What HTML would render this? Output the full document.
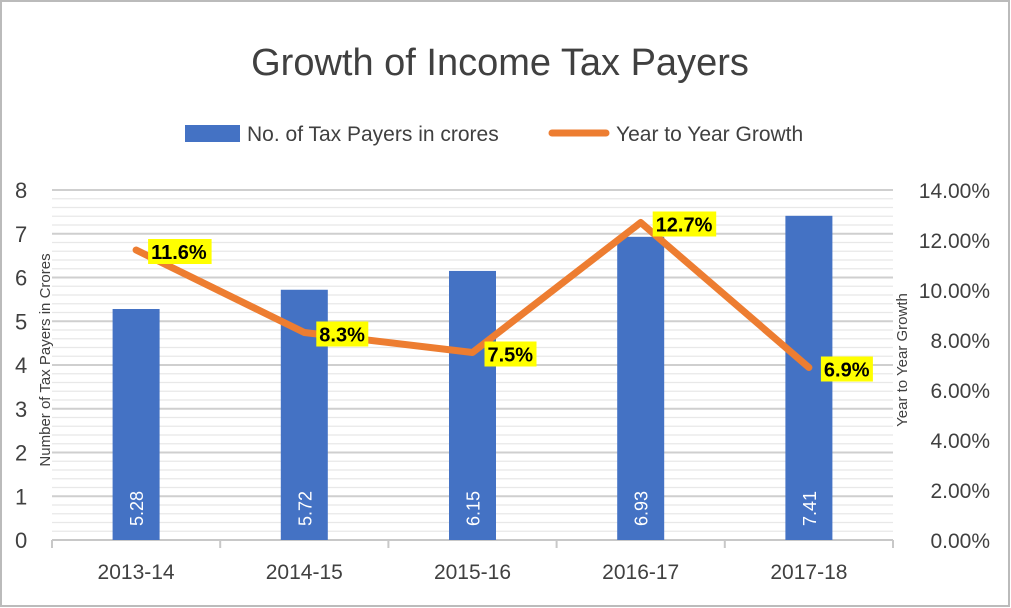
<!DOCTYPE html>
<html><head><meta charset="utf-8"><style>
body{margin:0;background:#fff}
svg{display:block;font-family:"Liberation Sans",sans-serif}
</style></head><body>
<svg id="c" width="1011" height="608" viewBox="0 0 1011 608">
<rect x="1" y="1" width="1008" height="605" fill="#fff" stroke="#bbb" stroke-width="2"/>
<text x="500" y="75" text-anchor="middle" font-size="38" fill="#404040">Growth of Income Tax Payers</text>
<g>
<rect x="185" y="125" width="55" height="17" fill="#4472c4"/>
<text x="247" y="141" font-size="21" fill="#404040">No. of  Tax Payers in crores</text>
<line x1="552" y1="133" x2="606" y2="133" stroke="#ed7d31" stroke-width="7" stroke-linecap="round"/>
<text x="616" y="141" font-size="21" fill="#404040">Year to Year Growth</text>
</g>
<text transform="translate(50,360) rotate(-90)" text-anchor="middle" font-size="15" fill="#404040">Number of Tax Payers in Crores</text>
<text transform="translate(907,360) rotate(-90)" text-anchor="middle" font-size="15" fill="#404040">Year to Year Growth</text>
<g id="grid"></g><g id="marks"></g>
</svg>
<script>
const categories=["2013-14","2014-15","2015-16","2016-17","2017-18"];
const payers=[5.28,5.72,6.15,6.93,7.41];
const growth=[11.6,8.3,7.5,12.7,6.9];
const leftTicks=[0,1,2,3,4,5,6,7,8];
const rightTicks=["0.00%","2.00%","4.00%","6.00%","8.00%","10.00%","12.00%","14.00%"];
const NS="http://www.w3.org/2000/svg";
const x0=52,x1=893,yb=540,yt=190;
const band=(x1-x0)/categories.length;
const xc=i=>x0+band*(i+0.5);
const yL=v=>yb-(v/8)*(yb-yt);
const yR=v=>yb-(v/14)*(yb-yt);
function mk(t,a,p){const e=document.createElementNS(NS,t);for(const k in a)e.setAttribute(k,a[k]);(p||svg).appendChild(e);return e;}
const svg=document.getElementById('c');
const grid=document.getElementById('grid'),marks=document.getElementById('marks');
for(let k=0;k<=40;k++){const v=k*0.2;const major=k%5===0;
 const l=mk('line',{x1:x0,x2:x1,y1:yL(v),y2:yL(v),stroke:major?'#cfcfcf':'#e8e8e8','stroke-width':major?2:1.2},grid);
 
 }
leftTicks.forEach(v=>{const t=mk('text',{x:15,y:yL(v)+8,'font-size':22,fill:'#404040'});t.textContent=v;
 
 });
rightTicks.forEach((s,i)=>{const t=mk('text',{x:990,y:yR(i*2)+8,'font-size':21,fill:'#404040','text-anchor':'end'});t.textContent=s;
 
 });
const ax=mk('line',{x1:x0,x2:x1,y1:yb,y2:yb,stroke:'#c8c8c8','stroke-width':2},grid);


for(let i=0;i<=categories.length;i++){const tk=mk('line',{x1:x0+band*i,x2:x0+band*i,y1:yb,y2:yb+8,stroke:'#c8c8c8','stroke-width':2},grid);
 
 }
categories.forEach((c,i)=>{
 const bw=47;
 const r=mk('rect',{x:xc(i)-bw/2,y:yL(payers[i]),width:bw,height:yb-yL(payers[i]),fill:'#4472c4'},marks);
 
 
 const vt=mk('text',{transform:`translate(${xc(i)+7},${yb-14}) rotate(-90)`,'font-size':18,fill:'#fff'},marks);vt.textContent=payers[i].toFixed(2);
 
 
 const xt=mk('text',{x:xc(i),y:579,'text-anchor':'middle','font-size':21,fill:'#404040'});xt.textContent=c;
 
 
});
const pl=mk('polyline',{points:growth.map((g,i)=>xc(i)+','+yR(g)).join(' '),fill:'none',stroke:'#ed7d31','stroke-width':7,'stroke-linecap':'round','stroke-linejoin':'round'},marks);


growth.forEach((g,i)=>{
 const s=g.toFixed(1)+'%';const w=s.length*11.5+6;const x=xc(i)+12,y=yR(g)-3;
 const b=mk('rect',{x:x,y:y-8,width:w,height:25,fill:'#ffff00'},marks);
 
 
 const t=mk('text',{x:x+3,y:y+12,'font-size':20,'font-weight':'bold',fill:'#000'},marks);t.textContent=s;
 
 
});
</script>
</body></html>
